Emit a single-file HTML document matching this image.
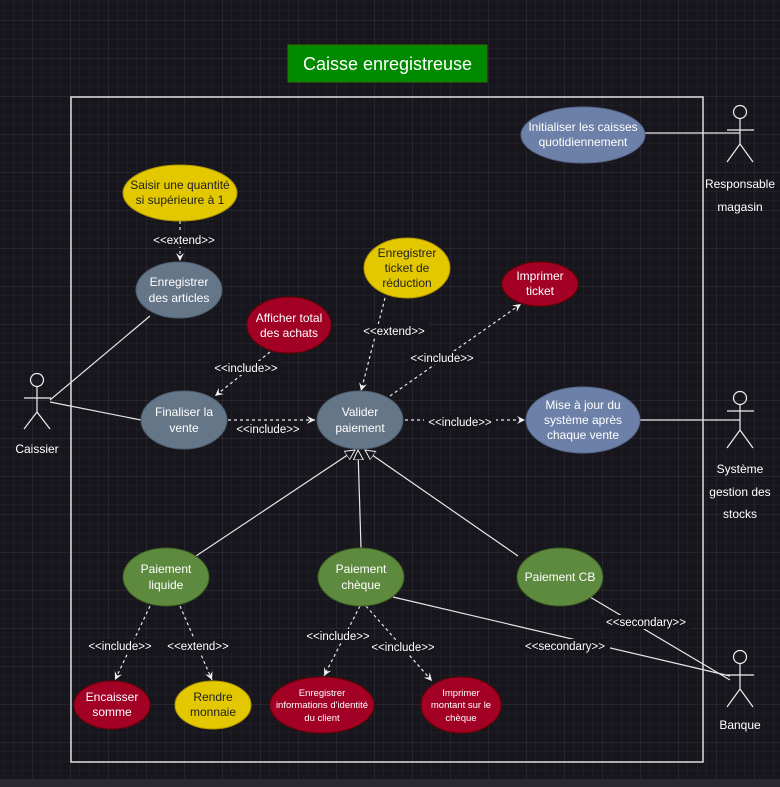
<!DOCTYPE html>
<html><head><meta charset="utf-8"><style>
html,body{margin:0;padding:0;background:#18161d;}
svg{display:block;font-family:"Liberation Sans",sans-serif;}
</style></head><body>
<svg width="780" height="787" viewBox="0 0 780 787" xmlns="http://www.w3.org/2000/svg">
<defs>
<pattern id="minor" x="32" y="20" width="9.5" height="9.5" patternUnits="userSpaceOnUse"><path d="M0 0H9.5M0 0V9.5" stroke="#25232b" stroke-width="1" fill="none"/></pattern>
<pattern id="major" x="32" y="20" width="38" height="38" patternUnits="userSpaceOnUse"><path d="M0 0H38M0 0V38" stroke="#34323a" stroke-width="1" fill="none"/></pattern>
<marker id="op" markerWidth="10" markerHeight="10" refX="8" refY="5" orient="auto" markerUnits="userSpaceOnUse"><path d="M0 1L8 5L0 9L3 5Z" fill="#eee"/></marker>
<marker id="tri" markerWidth="12" markerHeight="12" refX="10" refY="6" orient="auto" markerUnits="userSpaceOnUse"><path d="M0 1L10 6L0 11Z" fill="#18161d" stroke="#eee"/></marker>
</defs>
<rect width="780" height="787" fill="#18161d"/>
<rect width="780" height="787" fill="url(#minor)"/>
<rect width="780" height="787" fill="url(#major)"/>
<rect x="0" y="779" width="780" height="8" fill="#2a2830"/>
<rect x="71" y="97" width="632" height="665" fill="none" stroke="#ddd" stroke-width="1.5"/>
<rect x="288" y="45" width="199" height="37" fill="#008a00" stroke="#2d7600"/>
<text x="387.5" y="70" font-size="18" fill="#fff" text-anchor="middle">Caisse enregistreuse</text>

<g stroke="#e6e6e6" stroke-width="1.2" fill="none">
<line x1="50" y1="400" x2="150" y2="316"/>
<line x1="50" y1="402" x2="141" y2="420"/>
<line x1="645" y1="133" x2="740" y2="133"/>
<line x1="640" y1="420" x2="740" y2="420"/>
<line x1="393" y1="597" x2="730" y2="676"/>
<line x1="590" y1="597" x2="730" y2="680"/>
<line x1="196" y1="556" x2="355" y2="450" marker-end="url(#tri)"/>
<line x1="361" y1="548" x2="358" y2="450" marker-end="url(#tri)"/>
<line x1="518" y1="556" x2="365" y2="450" marker-end="url(#tri)"/>
</g>
<g stroke="#e6e6e6" stroke-width="1.2" fill="none" stroke-dasharray="3 3" marker-end="url(#op)">
<line x1="180" y1="221" x2="180" y2="261"/>
<line x1="270" y1="352" x2="215" y2="396"/>
<line x1="385" y1="298" x2="361" y2="391"/>
<line x1="390" y1="396" x2="521" y2="304"/>
<line x1="228" y1="420" x2="315" y2="420"/>
<line x1="405" y1="420" x2="525" y2="420"/>
<line x1="150" y1="606" x2="115" y2="680"/>
<line x1="180" y1="606" x2="212" y2="680"/>
<line x1="360" y1="606" x2="324" y2="676"/>
<line x1="366" y1="606" x2="432" y2="681"/>
</g>
<g font-size="11.5" fill="#fff" text-anchor="middle">
<g fill="#18161d"><rect x="150" y="233" width="68" height="14"/><rect x="210" y="361" width="72" height="14"/><rect x="360" y="324" width="68" height="14"/><rect x="406" y="351" width="72" height="14"/><rect x="232" y="422" width="72" height="14"/><rect x="424" y="415" width="72" height="14"/><rect x="84" y="639" width="72" height="14"/><rect x="164" y="639" width="68" height="14"/><rect x="302" y="629" width="72" height="14"/><rect x="367" y="640" width="72" height="14"/><rect x="601" y="615" width="90" height="14"/><rect x="520" y="639" width="90" height="14"/></g>
<text x="184" y="244">&lt;&lt;extend&gt;&gt;</text>
<text x="246" y="372">&lt;&lt;include&gt;&gt;</text>
<text x="394" y="335">&lt;&lt;extend&gt;&gt;</text>
<text x="442" y="362">&lt;&lt;include&gt;&gt;</text>
<text x="268" y="433">&lt;&lt;include&gt;&gt;</text>
<text x="460" y="426">&lt;&lt;include&gt;&gt;</text>
<text x="120" y="650">&lt;&lt;include&gt;&gt;</text>
<text x="198" y="650">&lt;&lt;extend&gt;&gt;</text>
<text x="338" y="640">&lt;&lt;include&gt;&gt;</text>
<text x="403" y="651">&lt;&lt;include&gt;&gt;</text>
<text x="646" y="626">&lt;&lt;secondary&gt;&gt;</text>
<text x="565" y="650">&lt;&lt;secondary&gt;&gt;</text>
</g>

<g stroke-width="1">
<ellipse cx="180" cy="193" rx="57" ry="28" fill="#e3c800" stroke="#b09500"/>
<ellipse cx="179" cy="290" rx="43" ry="28" fill="#647687" stroke="#4f5f70"/>
<ellipse cx="289" cy="325" rx="42" ry="28" fill="#a20025" stroke="#6f0000"/>
<ellipse cx="407" cy="268" rx="43" ry="30" fill="#e3c800" stroke="#b09500"/>
<ellipse cx="540" cy="284" rx="38" ry="22" fill="#a20025" stroke="#6f0000"/>
<ellipse cx="583" cy="135" rx="62" ry="28" fill="#6d80a8" stroke="#56678a"/>
<ellipse cx="184" cy="420" rx="43" ry="29" fill="#647687" stroke="#4f5f70"/>
<ellipse cx="360" cy="420" rx="43" ry="29" fill="#647687" stroke="#4f5f70"/>
<ellipse cx="583" cy="420" rx="57" ry="33" fill="#6d80a8" stroke="#56678a"/>
<ellipse cx="166" cy="577" rx="43" ry="29" fill="#5e8a3f" stroke="#3a5c1f"/>
<ellipse cx="361" cy="577" rx="43" ry="29" fill="#5e8a3f" stroke="#3a5c1f"/>
<ellipse cx="560" cy="577" rx="43" ry="29" fill="#5e8a3f" stroke="#3a5c1f"/>
<ellipse cx="112" cy="705" rx="38" ry="24" fill="#a20025" stroke="#6f0000"/>
<ellipse cx="213" cy="705" rx="38" ry="24" fill="#e3c800" stroke="#b09500"/>
<ellipse cx="322" cy="705" rx="52" ry="28" fill="#a20025" stroke="#6f0000"/>
<ellipse cx="461" cy="705" rx="40" ry="28" fill="#a20025" stroke="#6f0000"/>
</g>
<g font-size="12" text-anchor="middle" fill="#fff">
<g fill="#222"><text x="180" y="189">Saisir une quantité</text><text x="180" y="204">si supérieure à 1</text>
<text x="407" y="257">Enregistrer</text><text x="407" y="272">ticket de</text><text x="407" y="287">réduction</text>
<text x="213" y="701">Rendre</text><text x="213" y="716">monnaie</text></g>
<text x="179" y="286">Enregistrer</text><text x="179" y="302">des articles</text>
<text x="289" y="322">Afficher total</text><text x="289" y="337">des achats</text>
<text x="540" y="280">Imprimer</text><text x="540" y="295">ticket</text>
<text x="583" y="131">Initialiser les caisses</text><text x="583" y="146">quotidiennement</text>
<text x="184" y="416">Finaliser la</text><text x="184" y="432">vente</text>
<text x="360" y="416">Valider</text><text x="360" y="432">paiement</text>
<text x="583" y="409">Mise à jour du</text><text x="583" y="424">système après</text><text x="583" y="439">chaque vente</text>
<text x="166" y="573">Paiement</text><text x="166" y="589">liquide</text>
<text x="361" y="573">Paiement</text><text x="361" y="589">chèque</text>
<text x="560" y="581">Paiement CB</text>
<text x="112" y="701">Encaisser</text><text x="112" y="716">somme</text>
<g font-size="9.5"><text x="322" y="696">Enregistrer</text><text x="322" y="708">informations d'identité</text><text x="322" y="721">du client</text>
<text x="461" y="696">Imprimer</text><text x="461" y="708">montant sur le</text><text x="461" y="721">chèque</text></g>
</g>

<g stroke="#eee" stroke-width="1.2" fill="none">
<g transform="translate(37,380)"><circle cx="0" cy="0" r="6.5"/><path d="M0 6.5V32M-13 18H14M0 32L-13 49M0 32L13 49"/></g>
<g transform="translate(740,112)"><circle cx="0" cy="0" r="6.5"/><path d="M0 6.5V32M-13 18H14M0 32L-13 50M0 32L13 50"/></g>
<g transform="translate(740,398)"><circle cx="0" cy="0" r="6.5"/><path d="M0 6.5V32M-13 13H14M0 32L-13 50M0 32L13 50"/></g>
<g transform="translate(740,657)"><circle cx="0" cy="0" r="6.5"/><path d="M0 6.5V32M-13 18H14M0 32L-13 50M0 32L13 50"/></g>
</g>
<g font-size="12" fill="#fff" text-anchor="middle">
<text x="37" y="453">Caissier</text>
<text x="740" y="188">Responsable</text><text x="740" y="211">magasin</text>
<text x="740" y="473">Système</text><text x="740" y="496">gestion des</text><text x="740" y="518">stocks</text>
<text x="740" y="729">Banque</text>
</g>
</svg>
</body></html>
